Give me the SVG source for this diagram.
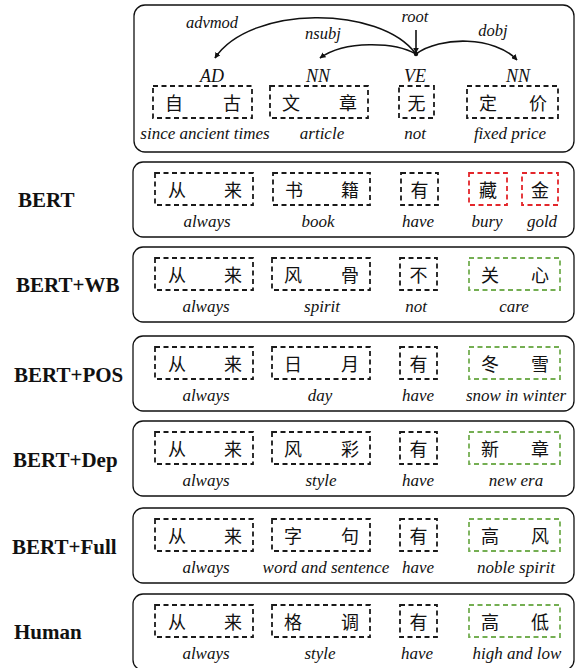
<svg xmlns="http://www.w3.org/2000/svg" width="575" height="668" viewBox="0 0 575 668">
  <style>
    .panel { fill: #fff; stroke: #111; stroke-width: 1.3; }
    .box { fill: none; stroke: #1a1a1a; stroke-width: 1.8; stroke-dasharray: 5 3.5; }
    .box.red { stroke: #e3262b; }
    .box.green { stroke: #74ae52; }
    .zh { font-family: "Noto Sans CJK SC", sans-serif; font-size: 18px; fill: #111; dominant-baseline: central; text-anchor: middle; }
    .en { font-family: "Liberation Serif", serif; font-style: italic; font-size: 17px; fill: #111; text-anchor: middle; }
    .tag { font-family: "Liberation Serif", serif; font-style: italic; font-size: 18px; fill: #111; text-anchor: middle; }
    .rel { font-family: "Liberation Serif", serif; font-style: italic; font-size: 16.5px; fill: #111; text-anchor: middle; }
    .model { font-family: "Liberation Serif", serif; font-weight: bold; font-size: 21px; fill: #111; }
    .arc { fill: none; stroke: #111; stroke-width: 1.6; }
  </style>
  <defs>
    <marker id="head" viewBox="0 0 10 10" refX="9" refY="5" markerWidth="6" markerHeight="6" orient="auto" markerUnits="userSpaceOnUse">
      <path d="M0,0 L10,5 L0,10 z" fill="#111"/>
    </marker>
  </defs>

  <!-- dependency parse of the source sentence -->
  <g id="source">
    <rect class="panel" x="134" y="5" width="440" height="147" rx="11"/>
    <text class="tag" x="212" y="82">AD</text>
    <text class="tag" x="318" y="82">NN</text>
    <text class="tag" x="415" y="82">VE</text>
    <text class="tag" x="518" y="82">NN</text>
    <g id="src-w1"><rect class="box" x="153" y="86" width="99" height="32"/><text class="zh" x="174" y="102">自</text><text class="zh" x="232" y="102">古</text></g>
    <g id="src-w2"><rect class="box" x="270" y="86" width="98" height="32"/><text class="zh" x="291" y="102">文</text><text class="zh" x="348" y="102">章</text></g>
    <g id="src-w3"><rect class="box" x="399" y="86" width="35" height="32"/><text class="zh" x="416.5" y="102">无</text></g>
    <g id="src-w4"><rect class="box" x="467" y="86" width="91" height="32"/><text class="zh" x="488" y="102">定</text><text class="zh" x="538" y="102">价</text></g>
    <text class="en" x="205" y="139">since ancient times</text>
    <text class="en" x="322" y="139">article</text>
    <text class="en" x="415" y="139">not</text>
    <text class="en" x="510" y="139">fixed price</text>
  </g>

  <g id="connectors">
    <path class="arc" d="M416,30 L416,53" marker-end="url(#head)"/>
    <circle cx="416" cy="54" r="2.2" fill="#111"/>
    <path class="arc" d="M416,54 C380,5 250,5 215,58" marker-end="url(#head)"/>
    <path class="arc" d="M416,54 C395,42 345,40 320,58" marker-end="url(#head)"/>
    <path class="arc" d="M416,54 C440,36 495,36 517,60" marker-end="url(#head)"/>
    <text class="rel" x="415" y="22">root</text>
    <text class="rel" x="212" y="28">advmod</text>
    <text class="rel" x="323" y="39">nsubj</text>
    <text class="rel" x="493" y="36">dobj</text>
  </g>

  <!-- BERT -->
  <g id="bert">
    <text class="model" x="18" y="207">BERT</text>
    <rect class="panel" x="133" y="162" width="441" height="75" rx="10"/>
    <rect class="box" x="155" y="173" width="98" height="32"/><text class="zh" x="177" y="189">从</text><text class="zh" x="233" y="189">来</text>
    <rect class="box" x="273" y="173" width="97" height="32"/><text class="zh" x="294" y="189">书</text><text class="zh" x="350" y="189">籍</text>
    <rect class="box" x="401" y="173" width="37" height="32"/><text class="zh" x="419.5" y="189">有</text>
    <rect class="box red" x="469" y="173" width="38" height="32"/><text class="zh" x="488" y="189">藏</text>
    <rect class="box red" x="522" y="173" width="36" height="32"/><text class="zh" x="540" y="189">金</text>
    <text class="en" x="207" y="227">always</text>
    <text class="en" x="318" y="227">book</text>
    <text class="en" x="418" y="227">have</text>
    <text class="en" x="487" y="227">bury</text>
    <text class="en" x="542" y="227">gold</text>
  </g>

  <!-- BERT+WB -->
  <g id="bert-wb">
    <text class="model" x="16" y="292">BERT+WB</text>
    <rect class="panel" x="133" y="247" width="441" height="75" rx="10"/>
    <rect class="box" x="155" y="258" width="98" height="32"/><text class="zh" x="177" y="274">从</text><text class="zh" x="233" y="274">来</text>
    <rect class="box" x="272" y="258" width="98" height="32"/><text class="zh" x="293" y="274">风</text><text class="zh" x="350" y="274">骨</text>
    <rect class="box" x="400" y="258" width="37" height="32"/><text class="zh" x="418.5" y="274">不</text>
    <rect class="box green" x="469" y="258" width="91" height="32"/><text class="zh" x="490" y="274">关</text><text class="zh" x="540" y="274">心</text>
    <text class="en" x="206" y="312">always</text>
    <text class="en" x="322" y="312">spirit</text>
    <text class="en" x="416" y="312">not</text>
    <text class="en" x="514" y="312">care</text>
  </g>

  <!-- BERT+POS -->
  <g id="bert-pos">
    <text class="model" x="14" y="382">BERT+POS</text>
    <rect class="panel" x="133" y="336" width="441" height="75" rx="10"/>
    <rect class="box" x="155" y="347" width="98" height="32"/><text class="zh" x="177" y="363">从</text><text class="zh" x="233" y="363">来</text>
    <rect class="box" x="272" y="347" width="98" height="32"/><text class="zh" x="293" y="363">日</text><text class="zh" x="350" y="363">月</text>
    <rect class="box" x="400" y="347" width="37" height="32"/><text class="zh" x="418.5" y="363">有</text>
    <rect class="box green" x="469" y="347" width="91" height="32"/><text class="zh" x="490" y="363">冬</text><text class="zh" x="540" y="363">雪</text>
    <text class="en" x="206" y="401">always</text>
    <text class="en" x="320" y="401">day</text>
    <text class="en" x="418" y="401">have</text>
    <text class="en" x="516" y="401">snow in winter</text>
  </g>

  <!-- BERT+Dep -->
  <g id="bert-dep">
    <text class="model" x="13" y="467">BERT+Dep</text>
    <rect class="panel" x="133" y="421" width="441" height="75" rx="10"/>
    <rect class="box" x="155" y="432" width="98" height="32"/><text class="zh" x="177" y="448">从</text><text class="zh" x="233" y="448">来</text>
    <rect class="box" x="272" y="432" width="98" height="32"/><text class="zh" x="293" y="448">风</text><text class="zh" x="350" y="448">彩</text>
    <rect class="box" x="400" y="432" width="37" height="32"/><text class="zh" x="418.5" y="448">有</text>
    <rect class="box green" x="469" y="432" width="91" height="32"/><text class="zh" x="490" y="448">新</text><text class="zh" x="540" y="448">章</text>
    <text class="en" x="206" y="486">always</text>
    <text class="en" x="321" y="486">style</text>
    <text class="en" x="418" y="486">have</text>
    <text class="en" x="516" y="486">new era</text>
  </g>

  <!-- BERT+Full -->
  <g id="bert-full">
    <text class="model" x="12" y="554">BERT+Full</text>
    <rect class="panel" x="133" y="508" width="441" height="75" rx="10"/>
    <rect class="box" x="155" y="519" width="98" height="32"/><text class="zh" x="177" y="535">从</text><text class="zh" x="233" y="535">来</text>
    <rect class="box" x="272" y="519" width="98" height="32"/><text class="zh" x="293" y="535">字</text><text class="zh" x="350" y="535">句</text>
    <rect class="box" x="400" y="519" width="37" height="32"/><text class="zh" x="418.5" y="535">有</text>
    <rect class="box green" x="469" y="519" width="91" height="32"/><text class="zh" x="490" y="535">高</text><text class="zh" x="540" y="535">风</text>
    <text class="en" x="206" y="573">always</text>
    <text class="en" x="326" y="573">word and sentence</text>
    <text class="en" x="418" y="573">have</text>
    <text class="en" x="516" y="573">noble spirit</text>
  </g>

  <!-- Human reference -->
  <g id="human">
    <text class="model" x="14" y="639">Human</text>
    <rect class="panel" x="133" y="594" width="441" height="76" rx="10"/>
    <rect class="box" x="155" y="605" width="98" height="32"/><text class="zh" x="177" y="621">从</text><text class="zh" x="233" y="621">来</text>
    <rect class="box" x="272" y="605" width="98" height="32"/><text class="zh" x="293" y="621">格</text><text class="zh" x="350" y="621">调</text>
    <rect class="box" x="400" y="605" width="37" height="32"/><text class="zh" x="418.5" y="621">有</text>
    <rect class="box green" x="469" y="605" width="91" height="32"/><text class="zh" x="490" y="621">高</text><text class="zh" x="540" y="621">低</text>
    <text class="en" x="206" y="659">always</text>
    <text class="en" x="320" y="659">style</text>
    <text class="en" x="417" y="659">have</text>
    <text class="en" x="517" y="659">high and low</text>
  </g>
</svg>
